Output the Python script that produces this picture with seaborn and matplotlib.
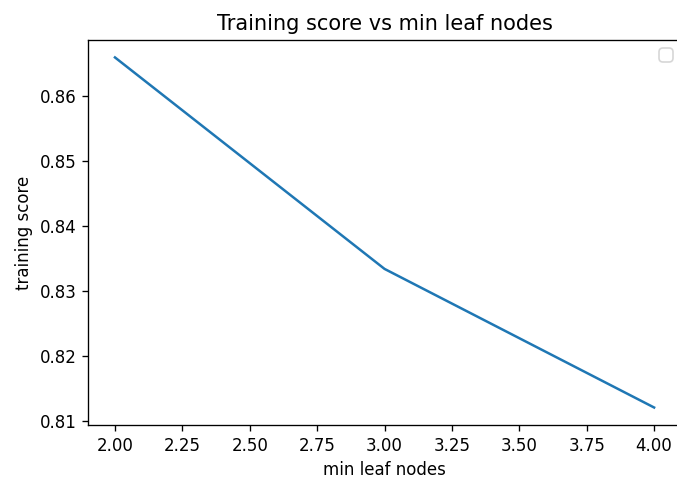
import numpy as np
import pandas as pd
import seaborn as sns
import matplotlib
matplotlib.use('Agg')
import matplotlib.pyplot as plt

# values
min_leaf_nodes = [2, 3, 4]
training_score = [0.8659, 0.8334, 0.8121]


def main():
    df = pd.DataFrame({'min leaf nodes': min_leaf_nodes,
                       'training score': training_score})

    plt.rcParams['font.family'] = ['DejaVu Sans']
    # 677x481 px at dpi 120
    fig = plt.figure(figsize=(677 / 120, 481 / 120), dpi=120)
    # the reference is cropped on the right, so the axes run past the edge
    ax = fig.add_axes([0.130, 0.1164, 0.876, 0.8006])
    sns.lineplot(data=df, x='min leaf nodes', y='training score', ax=ax,
                 color='#1f77b4', linewidth=1.5)
    ax.set_title('Training score vs min leaf nodes', fontsize=12.5)
    ax.set_xlabel('min leaf nodes', fontsize=10)
    ax.set_ylabel('training score', fontsize=10)
    ax.tick_params(labelsize=10)
    ax.set_xticks(np.arange(2.0, 4.01, 0.25))
    ax.set_xticklabels(['{:.2f}'.format(v) for v in np.arange(2.0, 4.01, 0.25)])
    ax.set_yticks([0.81, 0.82, 0.83, 0.84, 0.85, 0.86])
    ax.set_yticklabels(['0.81', '0.82', '0.83', '0.84', '0.85', '0.86'])
    ax.legend(loc='upper right')
    fig.savefig('out.png', dpi=120)


if __name__ == "__main__":
    main()
